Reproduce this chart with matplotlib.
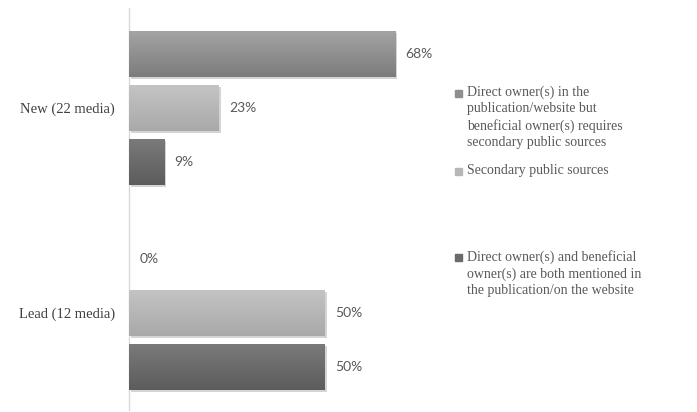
import matplotlib
matplotlib.use("Agg")
import matplotlib.pyplot as plt
import matplotlib.patheffects as pe
from matplotlib.patches import Rectangle
import numpy as np

categories = ["New (22 media)", "Lead (12 media)"]
series_names = [
    "Direct owner(s) in the\npublication/website but\nbeneficial owner(s) requires\nsecondary public sources",
    "Secondary public sources",
    "Direct owner(s) and beneficial\nowner(s) are both mentioned in\nthe publication/on the website",
]
series_values = [
    [68, 0],   # direct in publication, beneficial via secondary
    [23, 50],  # secondary public sources
    [9, 50],   # both mentioned
]
value_labels = [["68%", "0%"], ["23%", "50%"], ["9%", "50%"]]

colors_top = ["#a3a3a3", "#c4c4c4", "#7a7a7a"]
colors_bot = ["#7c7c7c", "#a9a9a9", "#5c5c5c"]
colors_mid = ["#8e8e8e", "#b6b6b6", "#6a6a6a"]

W, H = 697, 412
fig = plt.figure(figsize=(W / 100, H / 100), dpi=100)
ax = fig.add_axes([129 / W, 1 - 410 / H, 313 / W, 402 / H])

serif = ["Liberation Serif", "DejaVu Serif"]
sans = ["Lato", "DejaVu Sans"]

pitch = 54 / 205
height = 46 / 205
ypos = np.arange(len(categories))

for i, vals in enumerate(series_values):
    offs = ypos + (i - 1) * pitch
    bars = ax.barh(offs, vals, height=height, color=colors_mid[i], linewidth=0,
                   zorder=2)
    for b in bars:
        b.set_path_effects([pe.SimplePatchShadow(offset=(1.5, -1.5), alpha=0.25,
                                                 shadow_rgbFace="#555555"),
                            pe.Normal()])
        w = b.get_width()
        if w > 0:
            x0, y0 = b.get_x(), b.get_y()
            h = b.get_height()
            c1 = np.array(matplotlib.colors.to_rgb(colors_top[i]))
            c2 = np.array(matplotlib.colors.to_rgb(colors_bot[i]))
            t = np.linspace(0, 1, 64)[:, None]
            grad = (c1 * (1 - t) + c2 * t)[:, None, :]
            im = ax.imshow(grad, extent=(x0, x0 + w, y0 + h, y0), aspect="auto",
                           zorder=3, interpolation="bilinear")
            im.set_clip_path(b)
    for j, (v, lab) in enumerate(zip(vals, value_labels[i])):
        ax.annotate(lab, (v, offs[j]), xytext=(7.5, 0), textcoords="offset points",
                    va="center", ha="left", fontsize=10, color="#595959",
                    family=sans, zorder=4)

ax.set_xlim(0, 80)
ax.set_ylim(1 + 97 / 205, -100 / 205)
ax.set_yticks(ypos)
ax.set_yticklabels(categories, family=serif, fontsize=10.5, color="#404040")
ax.tick_params(axis="y", length=0, pad=10)
ax.set_xticks([])
for s in ["top", "right", "bottom"]:
    ax.spines[s].set_visible(False)
ax.spines["left"].set_color("#d9d9d9")
ax.spines["left"].set_linewidth(1.0)

# legend drawn manually
legend_tops = [86, 164, 250]
for i, name in enumerate(series_names):
    ytop = legend_tops[i]
    fig.text(467 / W, 1 - ytop / H, name, family=serif, fontsize=10,
             color="#595959", va="top", ha="left", linespacing=1.3)
    fig.patches.append(Rectangle((455 / W, 1 - (ytop + 11) / H), 7 / W, 7 / H,
                                 transform=fig.transFigure, color=colors_mid[i]))

fig.savefig("out.png", dpi=100)
